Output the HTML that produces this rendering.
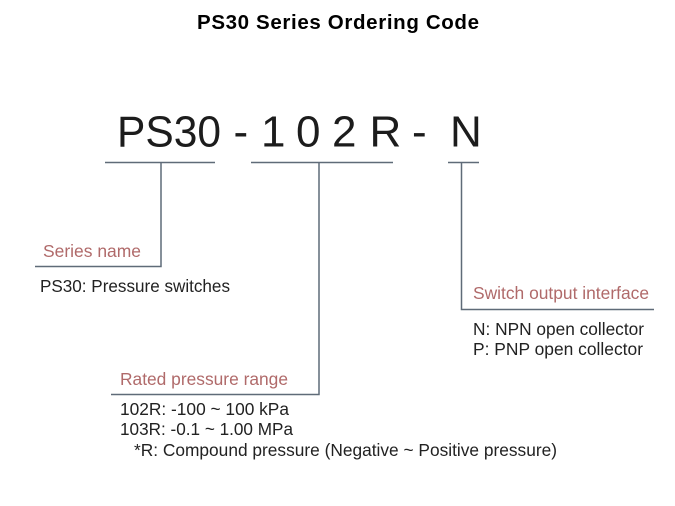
<!DOCTYPE html>
<html>
<head>
<meta charset="utf-8">
<style>
html,body{margin:0;padding:0;background:#fff;}
#c{position:relative;width:675px;height:506px;overflow:hidden;background:#fff;}
svg{position:absolute;left:0;top:0;}
text{font-family:"Liberation Sans",Arial,sans-serif;}
.b{font-size:17.2px;fill:#222;}
.r{font-size:17.2px;fill:#b06a6a;}
.h{font-size:44px;fill:#1c1c1c;}
</style>
</head>
<body>
<div id="c">
<svg width="675" height="506" viewBox="0 0 675 506">
<text x="197" y="29" font-size="20.5" font-weight="bold" fill="#000" textLength="282" lengthAdjust="spacing">PS30 Series Ordering Code</text>

<text class="h" x="117" y="146.5" textLength="104" lengthAdjust="spacingAndGlyphs">PS30</text>
<text class="h" x="233.5" y="146.5">-</text>
<text class="h" x="261" y="146.5">1</text>
<text class="h" x="296" y="146.5">0</text>
<text class="h" x="332" y="146.5">2</text>
<text class="h" x="369.5" y="146.5">R</text>
<text class="h" x="412" y="146.5">-</text>
<text class="h" x="450" y="146.5">N</text>

<g fill="none" stroke="#5f6b78" stroke-width="1.5">
<path d="M105 162.5H215"/>
<path d="M251 162.5H393"/>
<path d="M448 162.5H479"/>
<path d="M161 162.5V266.5H35"/>
<path d="M319 162.5V394.5H111"/>
<path d="M461.5 162.5V309.5H654"/>
</g>

<text class="r" x="43" y="257" textLength="98" lengthAdjust="spacingAndGlyphs">Series name</text>
<text class="b" x="40" y="292" textLength="190" lengthAdjust="spacingAndGlyphs">PS30: Pressure switches</text>

<text class="r" x="120" y="385" textLength="168" lengthAdjust="spacingAndGlyphs">Rated pressure range</text>
<text class="b" x="120" y="415" textLength="169" lengthAdjust="spacingAndGlyphs">102R: -100 ~ 100 kPa</text>
<text class="b" x="120" y="435" textLength="173" lengthAdjust="spacingAndGlyphs">103R: -0.1 ~ 1.00 MPa</text>
<text class="b" x="134" y="456" textLength="423" lengthAdjust="spacingAndGlyphs">*R: Compound pressure (Negative ~ Positive pressure)</text>

<text class="r" x="473" y="299" textLength="176" lengthAdjust="spacingAndGlyphs">Switch output interface</text>
<text class="b" x="473" y="335" textLength="171" lengthAdjust="spacingAndGlyphs">N: NPN open collector</text>
<text class="b" x="473" y="355" textLength="170" lengthAdjust="spacingAndGlyphs">P: PNP open collector</text>
</svg>
</div>
</body>
</html>
